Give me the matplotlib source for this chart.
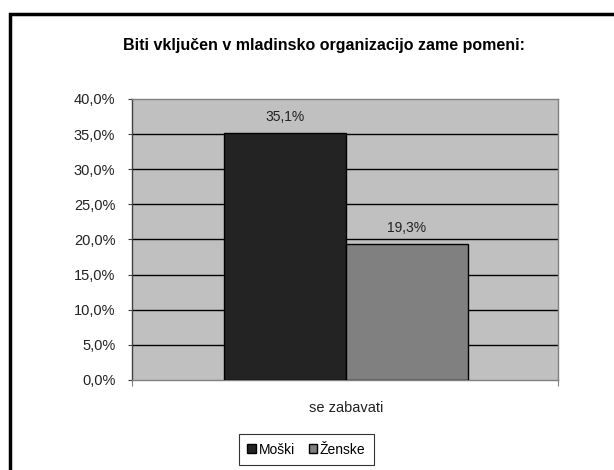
import numpy as np
import matplotlib as mpl
mpl.use('Agg')
import matplotlib.pyplot as plt
from matplotlib.patches import Rectangle

plt.rcParams['font.family'] = ['Liberation Sans', 'DejaVu Sans']

# data
category = "se zabavati"
series = ["Moški", "Ženske"]
values = [35.1, 19.3]
colors = ["#232323", "#808080"]
yticks = [0, 5, 10, 15, 20, 25, 30, 35, 40]

fig = plt.figure(figsize=(6.14, 4.70), dpi=100)
fig.patch.set_facecolor('white')

# outer frame (only left and top visible in the picture)
fig.patches.append(Rectangle((0.0155, -0.1), 1.2, 1.071, transform=fig.transFigure,
                             fill=False, edgecolor='black', linewidth=2.5))

fig.text(0.527, 0.904, "Biti vključen v mladinsko organizacijo zame pomeni:",
         ha='center', va='center', fontsize=11.5, fontweight='semibold')

ax = fig.add_axes([0.215, 0.1915, 0.694, 0.598])
ax.set_facecolor('#c0c0c0')

offsets = [-0.5, 0.5]
for off, v, c in zip(offsets, values, colors):
    ax.bar(off, v, width=1.0, color=c, edgecolor='black', linewidth=1, zorder=3)
    ax.text(off, v + 2.4, f"{v:.1f}%".replace('.', ','), ha='center', va='center',
            fontsize=10, color='#222222', zorder=4)

ax.set_ylim(0, 40)
ax.set_xlim(-1.754, 1.738)
ax.set_yticks(yticks)
ax.set_yticklabels([f"{t:.1f}%".replace('.', ',') for t in yticks], fontsize=10.5,
                   color='#222222')
for t in yticks[1:-1]:
    ax.axhline(t, color='black', linewidth=1, zorder=1)

ax.set_xticks([-1.754, 1.738])
ax.set_xticklabels([])
ax.tick_params(axis='x', length=4, color='#808080')
ax.tick_params(axis='y', length=3, color='#404040', pad=9)
for s in ax.spines.values():
    s.set_color('#808080')
    s.set_linewidth(1)
ax.spines['left'].set_color('#404040')

ax.text(0.0, -0.1, category, transform=ax.get_xaxis_transform(), ha='center',
        va='center', fontsize=10.5, color='#222222')

handles = [Rectangle((0, 0), 1, 1, facecolor=c, edgecolor='black', linewidth=1) for c in colors]
leg = fig.legend(handles, series, loc='center', bbox_to_anchor=(0.499, 0.043),
                 ncol=2, fontsize=10, frameon=True, fancybox=False,
                 handlelength=0.6, handleheight=0.6, handletextpad=0.2,
                 columnspacing=1.0, borderpad=0.6)
leg.get_frame().set_edgecolor('black')
leg.get_frame().set_linewidth(0.8)

fig.savefig("out.png", dpi=100)
